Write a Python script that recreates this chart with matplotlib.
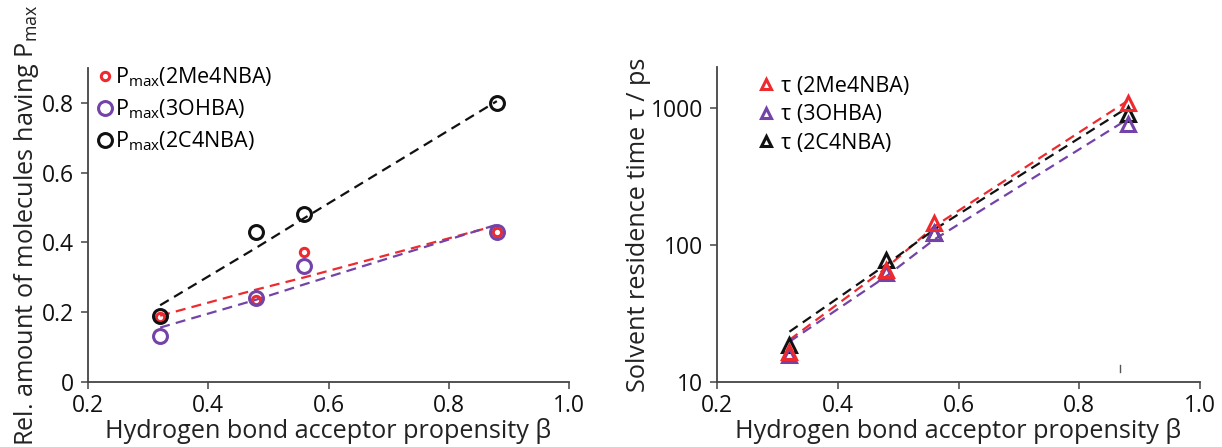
import matplotlib
matplotlib.use("Agg")
import matplotlib.pyplot as plt
from matplotlib.ticker import FixedLocator, NullLocator

plt.rcParams['font.family'] = ['Open Sans', 'DejaVu Sans']
plt.rcParams['mathtext.fontset'] = 'custom'
plt.rcParams['mathtext.rm'] = 'Open Sans'
plt.rcParams['mathtext.it'] = 'Open Sans'
plt.rcParams['mathtext.bf'] = 'Open Sans'

# ---------------- data ----------------
beta = [0.32, 0.48, 0.56, 0.88]
series_names = ["2Me4NBA", "3OHBA", "2C4NBA"]
colors = ["#ee2a2e", "#7443a8", "#111111"]

pmax_2Me4NBA = [0.187, 0.236, 0.372, 0.431]
pmax_3OHBA = [0.132, 0.240, 0.332, 0.431]
pmax_2C4NBA = [0.190, 0.431, 0.482, 0.800]
pfit_2Me4NBA = [0.190, 0.265, 0.300, 0.449]
pfit_3OHBA = [0.156, 0.236, 0.280, 0.451]
pfit_2C4NBA = [0.220, 0.385, 0.470, 0.805]

tau_2Me4NBA = [16.5, 66, 145, 1100]
tau_3OHBA = [15.8, 63, 123, 764]
tau_2C4NBA = [18.7, 78, 123, 904]
tfit_2Me4NBA = [20.3, 68, 137, 1130]
tfit_3OHBA = [19.7, 59, 110, 830]
tfit_2C4NBA = [23.3, 72, 130, 1010]

stray_x = [0.867, 0.867]
stray_y = [11.8, 13.4]

xticks = [0.2, 0.4, 0.6, 0.8, 1.0]
xticklabels = ["0.2", "0.4", "0.6", "0.8", "1.0"]
left_yticks = [0, 0.2, 0.4, 0.6, 0.8]
left_yticklabels = ["0", "0.2", "0.4", "0.6", "0.8"]
right_yticks = [10, 100, 1000]
right_yticklabels = ["10", "100", "1000"]

# ---------------- figure ----------------
W, H = 1222, 447
fig = plt.figure(figsize=(W / 100, H / 100), dpi=100)
axL = fig.add_axes([88 / W, 1 - 382 / H, 481 / W, (382 - 68) / H])
axR = fig.add_axes([717 / W, 1 - 382 / H, 483 / W, (382 - 67) / H])

spine_col = "#444444"
FS_TICK = 16.5
FS_LAB = 18.2
FS_LEG = 15.5

dash = (0, (4.5, 2.8))

# left panel
pvals = [pmax_2Me4NBA, pmax_3OHBA, pmax_2C4NBA]
pfits = [pfit_2Me4NBA, pfit_3OHBA, pfit_2C4NBA]
msizes = [6, 10, 10]
for name, c, v, f, ms in zip(series_names, colors, pvals, pfits, msizes):
    axL.plot(beta, f, linestyle=dash, color=c, lw=1.6, zorder=2)
    axL.plot(beta, v, linestyle="none", marker="o", ms=ms, mfc="none",
             mec=c, mew=2.2, zorder=3,
             label=r"P$_{\mathrm{max}}$(" + name + ")")

axL.set_xlim(0.2, 1.0)
axL.set_ylim(0, 0.9)
axL.xaxis.set_major_locator(FixedLocator(xticks))
axL.set_xticklabels(xticklabels)
axL.yaxis.set_major_locator(FixedLocator(left_yticks))
axL.set_yticklabels(left_yticklabels)
axL.set_xlabel(r"Hydrogen bond acceptor propensity β", fontsize=FS_LAB, labelpad=0)
axL.set_ylabel(r"Rel. amount of molecules having P$_{\mathrm{max}}$", fontsize=FS_LAB, labelpad=1)
legL = axL.legend(loc="upper left", bbox_to_anchor=(0.005, 1.035), frameon=False,
                  fontsize=FS_LEG, handlelength=0.6, handletextpad=0.15,
                  labelspacing=0.38, borderaxespad=0, markerscale=1.0)

# right panel (black drawn first so purple/red sit on top)
tvals = [tau_2Me4NBA, tau_3OHBA, tau_2C4NBA]
tfits = [tfit_2Me4NBA, tfit_3OHBA, tfit_2C4NBA]
zmark = [5, 4, 3]
for name, c, v, f, zm in zip(series_names, colors, tvals, tfits, zmark):
    axR.plot(beta, f, linestyle=dash, color=c, lw=1.6, zorder=2)
    axR.plot(beta, v, linestyle="none", marker="^", ms=10, mfc="none",
             mec=c, mew=2.2, zorder=zm, label="τ (" + name + ")")
axR.plot(stray_x, stray_y, color="#555555", lw=1.0)

axR.set_yscale("log")
axR.set_xlim(0.2, 1.0)
axR.set_ylim(10, 2000)
axR.xaxis.set_major_locator(FixedLocator(xticks))
axR.set_xticklabels(xticklabels)
axR.yaxis.set_major_locator(FixedLocator(right_yticks))
axR.yaxis.set_minor_locator(NullLocator())
axR.set_yticklabels(right_yticklabels)
axR.set_xlabel("Hydrogen bond acceptor propensity β", fontsize=FS_LAB, labelpad=0)
axR.set_ylabel("Solvent residence time τ / ps", fontsize=FS_LAB, labelpad=0)
legR = axR.legend(loc="upper left", bbox_to_anchor=(0.07, 1.0), frameon=False,
                  fontsize=FS_LEG, handlelength=0.6, handletextpad=0.4,
                  labelspacing=0.35, borderaxespad=0, markerscale=0.65)

for ax in (axL, axR):
    for s in ("top", "right"):
        ax.spines[s].set_visible(False)
    for s in ("left", "bottom"):
        ax.spines[s].set_color(spine_col)
        ax.spines[s].set_linewidth(1.3)
    ax.tick_params(axis="both", which="major", direction="out", length=5,
                   width=1.1, color=spine_col, labelsize=FS_TICK,
                   labelcolor="#111111")
    ax.tick_params(axis="x", pad=4)
    ax.tick_params(axis="y", pad=5)
    ax.xaxis.label.set_color("#222222")
    ax.yaxis.label.set_color("#222222")

fig.savefig("out.png", dpi=100)
